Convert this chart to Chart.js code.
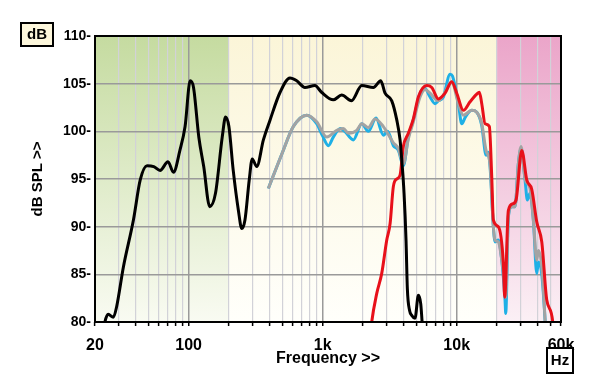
<!DOCTYPE html>
<html>
<head>
<meta charset="utf-8">
<script src="https://cdn.jsdelivr.net/npm/chart.js@4/dist/chart.umd.min.js"></script>
<style>
  html, body { margin: 0; padding: 0; background: #fff; }
  #wrap { width: 600px; height: 389px; }
</style>
</head>
<body>
<div id="wrap"><canvas id="fr" width="600" height="389"></canvas></div>
<script>
// [frequency Hz, dB SPL]
const woofer = [[22.5,78],[23.7,80],[25.1,80.8],[27.4,80.5],[29,81.6],[32.6,85.8],[38.7,90.7],[43.5,94.9],[48.9,96.4],[54.9,96.3],[61.2,95.9],[70.1,96.8],[77,95.7],[86,98],[94,100.5],[102.6,105.3],[108.7,104.6],[119,99.4],[129.5,96.3],[143.6,92.1],[158.5,93.5],[178,99.4],[188.5,101.5],[199.6,100.5],[215,95.9],[235,91.7],[249,89.8],[263,90.7],[283,94.9],[298,97.1],[322,96.3],[361,99.1],[405,101.2],[481,104.1],[570,105.6],[640,105.3],[737,104.6],[875,104.8],[980,104.1],[1200,103.3],[1385,103.8],[1640,103.2],[1956,104.8],[2388,104.6],[2712,105.3],[2920,104],[3276,103.2],[3570,101.2],[3778,99.1],[3890,97],[4046,93.5],[4188,88.5],[4282,83.5],[4450,81.2],[4617,80.7],[4887,80.4],[5172,82.8],[5390,81.9],[5580,79]]
const midBlue = [[393,94.0],[495,97.6],[604,100.5],[760,101.7],[902,100.8],[1000,99.5],[1102,98.5],[1200,99.4],[1353,100.3],[1460,100.0],[1693,99.1],[1956,100.8],[2190,100.0],[2500,101.4],[2836,99.6],[3050,100.0],[3366,98.5],[3669,98.0],[3996,96.4],[4356,99.4],[4746,101.2],[5326,104.0],[5804,104.5],[6325,103.6],[6893,102.9],[7293,103.2],[7951,103.6],[8921,106.0],[9300,105.8],[10287,102.9],[10906,100.8],[11600,101.5],[12946,102.2],[14112,102.0],[15378,100.6],[16558,97.5],[17200,97.8],[17736,96.3],[18768,90.0],[19326,88.4],[20452,88.6],[21680,86.5],[22940,82.3],[23220,80.9],[24280,91.0],[25740,92.1],[27240,92.1],[28840,96.6],[30220,98.2],[32360,94.9],[33660,92.8],[35260,93.5],[37320,90.7],[39560,85.1],[40660,86.3],[43120,85.0],[45640,80.2],[46500,78]]
const midGrey = [[393,94.0],[495,97.6],[604,100.5],[760,101.7],[902,101.0],[1072,99.4],[1273,100.1],[1426,100.3],[1554,99.8],[1794,100.1],[1956,100.8],[2190,100.4],[2458,101.3],[2836,100.5],[3366,98.8],[3669,98.2],[3996,96.6],[4356,99.2],[4746,101.0],[5326,103.6],[5804,104.4],[6325,104.0],[7293,103.2],[7951,103.8],[9183,105.2],[10287,102.9],[11211,101.7],[12946,102.2],[14112,102.0],[15378,100.8],[16558,98.0],[17736,96.5],[18768,90.0],[19326,88.6],[20452,88.4],[21680,86.5],[22940,83.5],[23220,82.6],[24280,91.2],[25740,92.1],[27240,92.1],[28840,96.6],[30220,98.4],[32360,95.0],[35260,94.0],[37320,90.7],[39560,86.5],[40660,87.5],[43120,85.8],[45640,80.2],[46500,78]]
const tweeter = [[2250,78],[2322,80],[2532,83.0],[2758,85.1],[3006,88.6],[3182,90.3],[3366,94.2],[3570,95.0],[3778,95.4],[3996,98.4],[4356,99.8],[4746,101.3],[5172,103.6],[5977,104.8],[6512,104.6],[7293,103.4],[8187,104.0],[9183,105.2],[10008,104.0],[11211,102.2],[12573,103.1],[14112,103.9],[14757,104.1],[15378,102.9],[16275,100.8],[17522,100.5],[18256,95.2],[18768,90.7],[20452,90.0],[22280,86.2],[22800,82.6],[24280,91.7],[26200,92.4],[27720,92.8],[30580,98.0],[33320,94.9],[36320,93.9],[39560,90.5],[43120,88.4],[46980,82.3],[52080,80],[53000,78]]

const xTicks = [20,30,40,50,60,70,80,90,100,200,300,400,500,600,700,800,900,
  1000,2000,3000,4000,5000,6000,7000,8000,9000,10000,20000,30000,40000,50000,60000]
const xTickLabels = { 20: '20', 100: '100', 1000: '1k', 10000: '10k', 60000: '60k' }
const bandEdges = [20, 200, 20000, 60000]

const FONT = "Arial, 'Liberation Sans', sans-serif"
const pts = arr => arr.map(([x, y]) => ({ x, y }))

const bandColors = [
  ['#c5dba0', '#f9fbf2'],
  ['#fbf5d8', '#fffffb'],
  ['#eba5c9', '#fbf0f5'],
]

const decor = {
  id: 'decor',
  beforeDraw(chart) {
    const { ctx, chartArea: a, scales: { x } } = chart
    ctx.save()
    bandColors.forEach((c, i) => {
      const x0 = x.getPixelForValue(bandEdges[i])
      const x1 = x.getPixelForValue(bandEdges[i + 1])
      const g = ctx.createLinearGradient(0, a.top, 0, a.bottom)
      g.addColorStop(0, c[0])
      g.addColorStop(1, c[1])
      ctx.fillStyle = g
      ctx.fillRect(x0, a.top, x1 - x0, a.bottom - a.top)
    })
    ctx.restore()
  },
  afterDraw(chart) {
    const { ctx, chartArea: a } = chart
    ctx.save()
    ctx.strokeStyle = '#000'
    ctx.lineWidth = 2
    ctx.strokeRect(a.left, a.top, a.right - a.left, a.bottom - a.top)

    ctx.font = 'bold 15px ' + FONT
    ctx.textAlign = 'center'
    ctx.textBaseline = 'middle'
    // unit boxes
    ctx.fillStyle = '#fdf7dc'
    ctx.fillRect(21, 23, 32, 23)
    ctx.strokeRect(21, 23, 32, 23)
    ctx.fillStyle = '#000'
    ctx.fillText('dB', 37, 35)
    ctx.fillStyle = '#fff'
    ctx.fillRect(547, 348, 26, 25)
    ctx.strokeRect(547, 348, 26, 25)
    ctx.fillStyle = '#000'
    ctx.fillText('Hz', 560, 361)
    ctx.restore()
  }
}

// first dataset is drawn on top
const line = (data, color) => ({
  data: pts(data),
  borderColor: color,
  borderWidth: 3,
  pointRadius: 0,
  fill: false,
  cubicInterpolationMode: 'monotone',
})

new Chart(document.getElementById('fr'), {
  type: 'line',
  data: {
    datasets: [
      line(woofer, '#000000'),
      line(tweeter, '#e8101a'),
      line(midGrey, '#a3a3a3'),
      line(midBlue, '#1eb0e6'),
    ]
  },
  options: {
    responsive: false,
    animation: false,
    layout: { padding: { left: 0, top: 36, right: 39, bottom: 0 } },
    plugins: { legend: { display: false }, tooltip: { enabled: false } },
    scales: {
      x: {
        type: 'logarithmic',
        min: 20,
        max: 60000,
        afterBuildTicks: s => { s.ticks = xTicks.map(v => ({ value: v })) },
        afterFit: s => { s.height = 67 },
        border: { display: false },
        grid: {
          color: c => [100, 1000, 10000].includes(c.tick && c.tick.value) ? '#9a9a9a' : '#d2d2d8',
          lineWidth: c => [100, 1000, 10000].includes(c.tick && c.tick.value) ? 1.5 : 1.2,
          tickColor: '#000',
          tickLength: 4,
          tickWidth: 1.5,
        },
        ticks: {
          autoSkip: false,
          maxRotation: 0,
          padding: 10,
          color: '#000',
          font: { family: FONT, size: 16, weight: 'bold' },
          callback: v => xTickLabels[v] || '',
        },
        title: {
          display: true,
          text: 'Frequency >>',
          color: '#000',
          font: { family: FONT, size: 16, weight: 'bold' },
          padding: { top: 0, bottom: 21 },
        }
      },
      y: {
        min: 80,
        max: 110,
        afterFit: s => { s.width = 95 },
        border: { display: false },
        grid: { color: '#9a9a9a', lineWidth: 1.5, drawTicks: false },
        ticks: {
          stepSize: 5,
          padding: 4,
          color: '#000',
          font: { family: FONT, size: 14, weight: 'bold' },
          callback: v => v + '-',
        },
        title: {
          display: true,
          text: 'dB SPL >>',
          color: '#000',
          font: { family: FONT, size: 15, weight: 'bold' },
          padding: { top: 29, bottom: 0 },
        }
      }
    }
  },
  plugins: [decor]
})
</script>
</body>
</html>
